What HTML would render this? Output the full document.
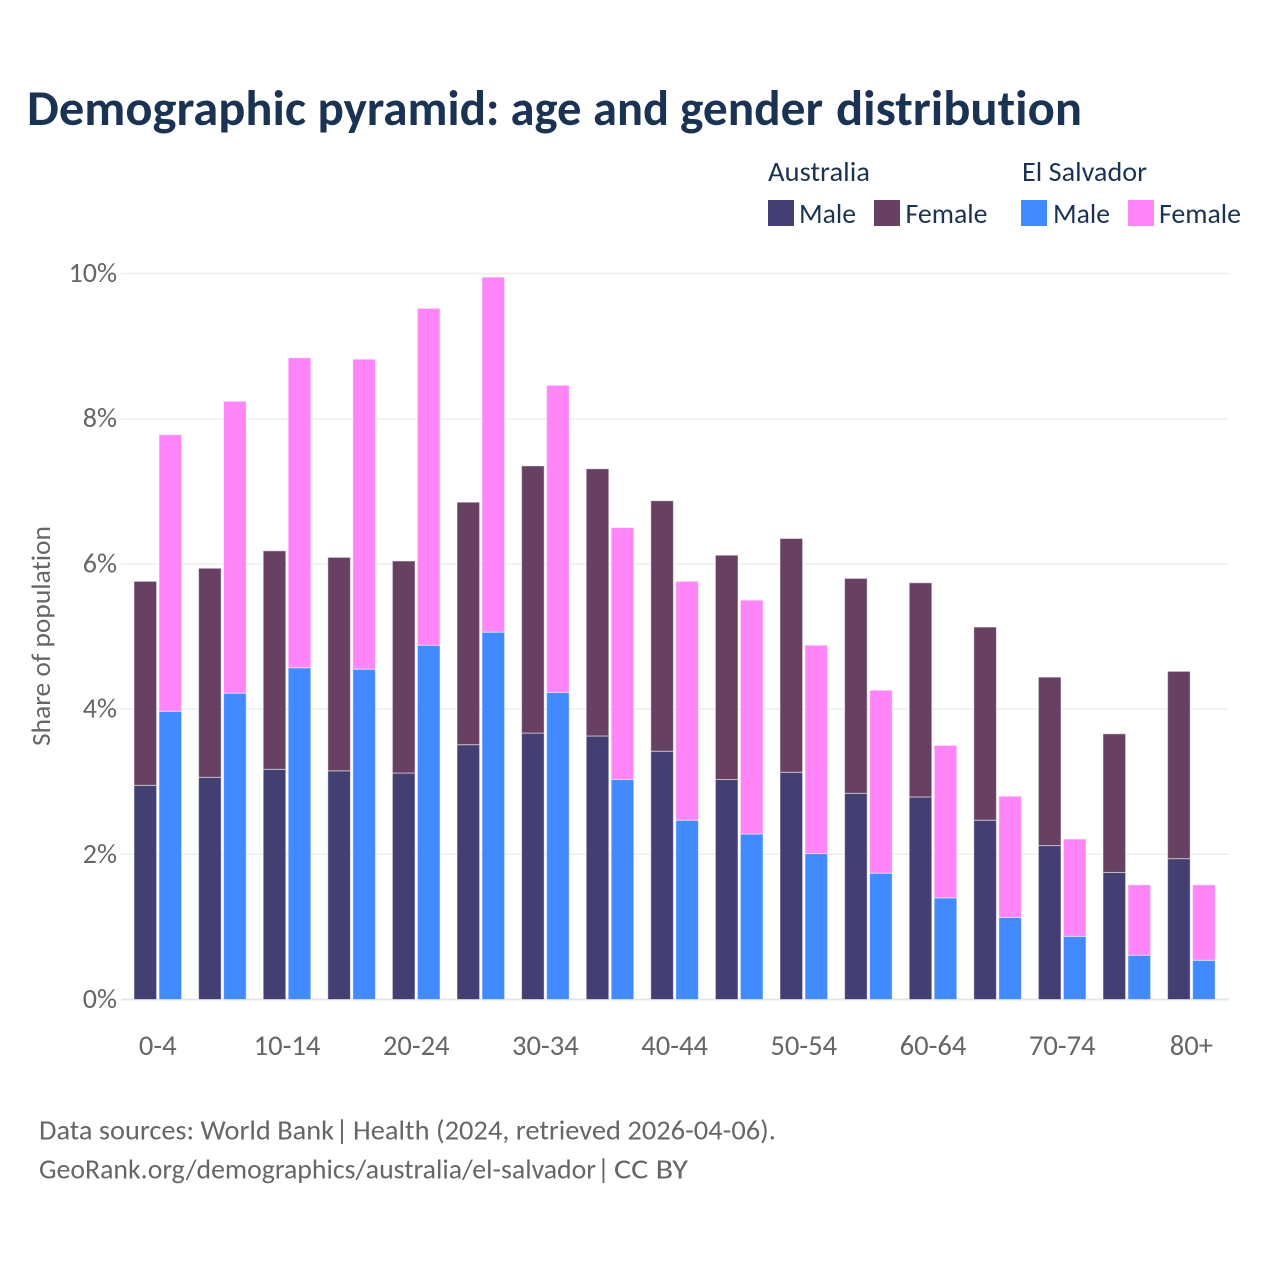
<!DOCTYPE html>
<html lang="en">
<head>
<meta charset="utf-8">
<title>Demographic pyramid: age and gender distribution</title>
<style>
html,body{margin:0;padding:0;background:#fff;}
svg{display:block;font-family:"Carlito","Lato","Liberation Sans",sans-serif;font-variant-ligatures:none;}
</style>
</head>
<body>
<svg id="chart" width="1280" height="1280" viewBox="0 0 1280 1280" xmlns="http://www.w3.org/2000/svg">
  <rect x="0" y="0" width="1280" height="1280" fill="#ffffff"/>
  <text y="125" font-size="50" font-weight="700" fill="#1b3353"><tspan x="27" textLength="279" lengthAdjust="spacingAndGlyphs">Demographic</tspan> <tspan x="317.5" textLength="182" lengthAdjust="spacingAndGlyphs">pyramid:</tspan> <tspan x="510.5" textLength="71" lengthAdjust="spacingAndGlyphs">age</tspan> <tspan x="593" textLength="76" lengthAdjust="spacingAndGlyphs">and</tspan> <tspan x="680" textLength="143" lengthAdjust="spacingAndGlyphs">gender</tspan> <tspan x="836" textLength="246" lengthAdjust="spacingAndGlyphs">distribution</tspan></text>

  <g font-size="28" fill="#1b3353">
    <text x="768" y="181" textLength="102" lengthAdjust="spacingAndGlyphs">Australia</text>
    <text x="1022" y="181" textLength="125" lengthAdjust="spacingAndGlyphs">El Salvador</text>
    <rect x="768" y="200" width="26" height="26" fill="#433f72"/>
    <text x="799" y="223" textLength="57" lengthAdjust="spacingAndGlyphs">Male</text>
    <rect x="874" y="200" width="26" height="26" fill="#684162"/>
    <text x="905.5" y="223" textLength="82" lengthAdjust="spacingAndGlyphs">Female</text>
    <rect x="1021" y="200" width="26" height="26" fill="#418aff"/>
    <text x="1053" y="223" textLength="57" lengthAdjust="spacingAndGlyphs">Male</text>
    <rect x="1128" y="200" width="26" height="26" fill="#ff85f9"/>
    <text x="1159" y="223" textLength="82" lengthAdjust="spacingAndGlyphs">Female</text>
  </g>

  <g id="grid"></g>
  <g id="bars"></g>
  <g id="yticks"></g>
  <g id="xticks"></g>

  <text transform="translate(50,636) rotate(-90)" text-anchor="middle" font-size="27" fill="#666666" textLength="220" lengthAdjust="spacingAndGlyphs">Share of population</text>

  <text y="1139.5" font-size="28" fill="#666666"><tspan x="39" textLength="295" lengthAdjust="spacingAndGlyphs">Data sources: World Bank</tspan> <tspan x="335.5">|</tspan> <tspan x="353" textLength="423" lengthAdjust="spacingAndGlyphs">Health (2024, retrieved 2026-04-06).</tspan></text>
  <text y="1178.5" font-size="28" fill="#666666"><tspan x="39" textLength="557" lengthAdjust="spacingAndGlyphs">GeoRank.org/demographics/australia/el-salvador</tspan> <tspan x="597">|</tspan> <tspan x="614" textLength="74" lengthAdjust="spacingAndGlyphs">CC BY</tspan></text>
</svg>
<script>
const categories = ["0-4","5-9","10-14","15-19","20-24","25-29","30-34","35-39","40-44","45-49","50-54","55-59","60-64","65-69","70-74","75-79","80+"];
const tickLabels = ["0-4","10-14","20-24","30-34","40-44","50-54","60-64","70-74","80+"];
const yTicks = [0,2,4,6,8,10];
const australiaMale = [2.95,3.06,3.17,3.15,3.12,3.51,3.67,3.63,3.42,3.03,3.13,2.84,2.79,2.47,2.12,1.75,1.94];
const australiaFemale = [2.81,2.88,3.01,2.94,2.92,3.34,3.68,3.68,3.45,3.09,3.22,2.96,2.95,2.66,2.32,1.91,2.58];
const elSalvadorMale = [3.97,4.22,4.57,4.55,4.88,5.06,4.23,3.03,2.47,2.28,2.01,1.74,1.40,1.13,0.87,0.61,0.54];
const elSalvadorFemale = [3.81,4.02,4.27,4.27,4.64,4.89,4.23,3.47,3.29,3.22,2.87,2.52,2.10,1.67,1.34,0.97,1.04];

const SVGNS = "http://www.w3.org/2000/svg";
const plotLeft = 121, plotRight = 1229, baseY = 999.5, pxPerPct = 72.6;
const firstCenter = 157.6, step = 64.6, barW = 22.6, barGap = 2;

function yScale(v){ return baseY - v * pxPerPct; }
function xCenter(i){ return firstCenter + i * step; }

const gridG = document.getElementById("grid");
const barsG = document.getElementById("bars");
const yG = document.getElementById("yticks");
const xG = document.getElementById("xticks");

yTicks.forEach(function(t){
  const line = document.createElementNS(SVGNS,"line");
  
  
  line.setAttribute("x1", plotLeft);
  line.setAttribute("x2", plotRight);
  line.setAttribute("y1", yScale(t));
  line.setAttribute("y2", yScale(t));
  line.setAttribute("stroke", t === 0 ? "#e6e6e6" : "#eeeeee");
  line.setAttribute("stroke-width", t === 0 ? 2 : 1.5);
  gridG.appendChild(line);

  const label = document.createElementNS(SVGNS,"text");
  
  
  label.setAttribute("x", 117);
  label.setAttribute("y", yScale(t) + 8.5);
  label.setAttribute("text-anchor", "end");
  label.setAttribute("font-size", 28);
  label.setAttribute("fill", "#666666");
  label.textContent = t + "%";
  yG.appendChild(label);
});

function addBar(x, y0, y1, fill, name){
  const r = document.createElementNS(SVGNS,"rect");
  
  
  r.setAttribute("x", x);
  r.setAttribute("y", y1);
  r.setAttribute("width", barW);
  r.setAttribute("height", Math.max(0, y0 - y1));
  r.setAttribute("fill", fill);
  r.setAttribute("stroke", "rgba(255,255,255,0.5)");
  r.setAttribute("stroke-width", 1);
  barsG.appendChild(r);
}

categories.forEach(function(cat, i){
  const c = xCenter(i);
  const xA = c - barW - barGap / 2;
  const xE = c + barGap / 2 + 0.4;
  addBar(xA, yScale(0), yScale(australiaMale[i]), "#433f72", "bar-australia-male");
  addBar(xA, yScale(australiaMale[i]), yScale(australiaMale[i] + australiaFemale[i]), "#684162", "bar-australia-female");
  addBar(xE, yScale(0), yScale(elSalvadorMale[i]), "#418aff", "bar-el-salvador-male");
  addBar(xE, yScale(elSalvadorMale[i]), yScale(elSalvadorMale[i] + elSalvadorFemale[i]), "#ff85f9", "bar-el-salvador-female");
  if (tickLabels.indexOf(cat) !== -1) {
    const t = document.createElementNS(SVGNS,"text");
    
    
    t.setAttribute("x", c + 0.2);
    t.setAttribute("y", 1055);
    t.setAttribute("text-anchor", "middle");
    t.setAttribute("font-size", 28.6);
    t.setAttribute("fill", "#666666");
    t.textContent = cat;
    xG.appendChild(t);
  }
});
</script>
</body>
</html>
